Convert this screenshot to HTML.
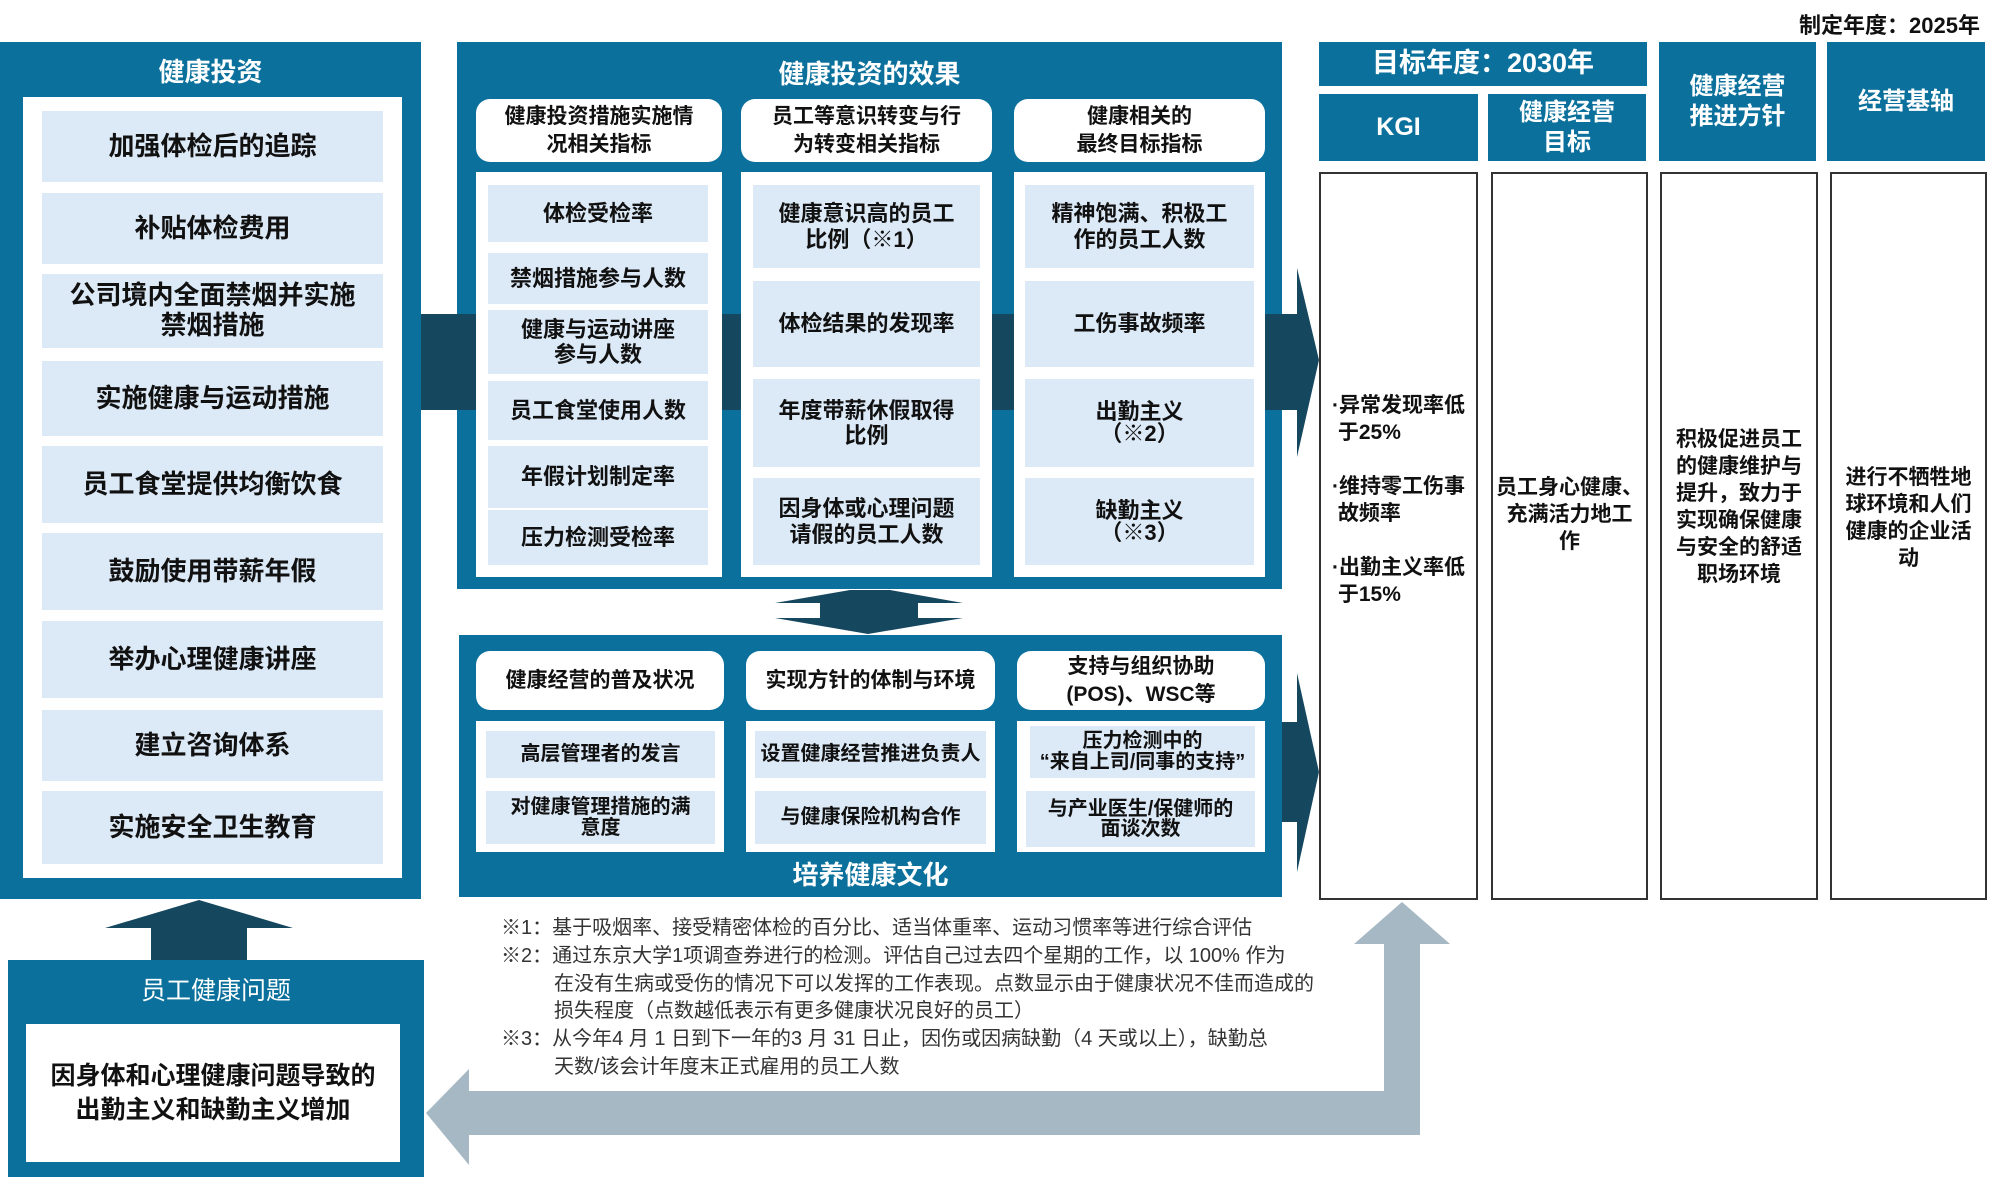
<!DOCTYPE html>
<html><head><meta charset="utf-8"><style>
*{margin:0;padding:0;box-sizing:border-box}
body{width:2000px;height:1177px;background:#fff;position:relative;overflow:hidden;font-family:"Liberation Sans","Noto Sans CJK SC",sans-serif;color:#111}
.a{position:absolute}
.blue{background:#0b719c}
.w{background:#fff}
.it{position:absolute;background:#dce9f6;display:flex;align-items:center;justify-content:center;text-align:center;font-weight:bold;line-height:1.15}
.hd{position:absolute;background:#fff;border-radius:14px;display:flex;align-items:center;justify-content:center;text-align:center;font-weight:bold;font-size:21px;line-height:1.3}
.t{position:absolute;color:#fff;font-weight:bold;text-align:center;display:flex;align-items:center;justify-content:center;line-height:1.25}
.col{position:absolute;background:#fff;border:2px solid #333}
.L .it{font-size:26px}
.M .it{font-size:22px}
.fn{position:absolute;left:501px;font-size:20px;color:#333;white-space:nowrap;line-height:28px}
</style></head><body>
<div class="a" style="right:20px;top:8px;font-size:22px;font-weight:bold">制定年度：2025年</div>

<svg class="a" style="left:0;top:0" width="2000" height="1177">
<rect x="421" y="314" width="876" height="96" fill="#15475f"/>
<polygon points="1297,268 1319,360 1297,457" fill="#15475f"/>
<rect x="1282" y="722" width="15" height="100" fill="#15475f"/>
<polygon points="1297,673 1319,772 1297,872" fill="#15475f"/>
<polygon points="199,900 293,928 247,928 247,960 151,960 151,928 105,928" fill="#15475f"/>
<polygon points="850,590 890,590 963,603 918,603 918,618 963,618 868,634 775,618 820,618 820,603 775,603" fill="#15475f"/>
<polygon points="1402,902 1450,944 1420,944 1420,1135 469,1135 469,1165 426,1113 469,1069 469,1091 1384,1091 1384,944 1354,944" fill="#a5b8c4"/>
</svg>

<!-- left panel -->
<div class="a blue L" style="left:0;top:42px;width:421px;height:857px">
 <div class="t" style="left:0;top:10px;width:421px;height:40px;font-size:26px">健康投资</div>
 <div class="a w" style="left:23px;top:55px;width:379px;height:781px"></div>
 <div class="it" style="left:42px;top:69px;width:341px;height:71px">加强体检后的追踪</div>
 <div class="it" style="left:42px;top:151px;width:341px;height:71px">补贴体检费用</div>
 <div class="it" style="left:42px;top:232px;width:341px;height:74px">公司境内全面禁烟并实施<br>禁烟措施</div>
 <div class="it" style="left:42px;top:319px;width:341px;height:75px">实施健康与运动措施</div>
 <div class="it" style="left:42px;top:404px;width:341px;height:77px">员工食堂提供均衡饮食</div>
 <div class="it" style="left:42px;top:491px;width:341px;height:77px">鼓励使用带薪年假</div>
 <div class="it" style="left:42px;top:579px;width:341px;height:77px">举办心理健康讲座</div>
 <div class="it" style="left:42px;top:668px;width:341px;height:71px">建立咨询体系</div>
 <div class="it" style="left:42px;top:749px;width:341px;height:73px">实施安全卫生教育</div>
</div>

<!-- middle top -->
<div class="a blue M" style="left:457px;top:42px;width:825px;height:547px">
 <div class="t" style="left:0;top:14px;width:825px;height:36px;font-size:26px">健康投资的效果</div>
 <div class="hd" style="left:19px;top:57px;width:246px;height:63px">健康投资措施实施情<br>况相关指标</div>
 <div class="hd" style="left:284px;top:57px;width:251px;height:63px">员工等意识转变与行<br>为转变相关指标</div>
 <div class="hd" style="left:557px;top:57px;width:251px;height:63px">健康相关的<br>最终目标指标</div>
 <div class="a" style="left:0;top:272px;width:825px;height:96px;background:#15475f"></div>
 <div class="a w" style="left:19px;top:130px;width:246px;height:405px"></div>
 <div class="a w" style="left:284px;top:130px;width:251px;height:405px"></div>
 <div class="a w" style="left:557px;top:130px;width:251px;height:405px"></div>
 <div class="it" style="left:31px;top:143px;width:220px;height:57px">体检受检率</div>
 <div class="it" style="left:31px;top:211px;width:220px;height:51px">禁烟措施参与人数</div>
 <div class="it" style="left:31px;top:268px;width:220px;height:64px">健康与运动讲座<br>参与人数</div>
 <div class="it" style="left:31px;top:339px;width:220px;height:59px">员工食堂使用人数</div>
 <div class="it" style="left:31px;top:404px;width:220px;height:62px">年假计划制定率</div>
 <div class="it" style="left:31px;top:468px;width:220px;height:55px">压力检测受检率</div>
 <div class="it" style="left:296px;top:143px;width:227px;height:83px">健康意识高的员工<br>比例（※1）</div>
 <div class="it" style="left:296px;top:239px;width:227px;height:86px">体检结果的发现率</div>
 <div class="it" style="left:296px;top:337px;width:227px;height:88px">年度带薪休假取得<br>比例</div>
 <div class="it" style="left:296px;top:436px;width:227px;height:87px">因身体或心理问题<br>请假的员工人数</div>
 <div class="it" style="left:568px;top:143px;width:229px;height:83px">精神饱满、积极工<br>作的员工人数</div>
 <div class="it" style="left:568px;top:239px;width:229px;height:86px">工伤事故频率</div>
 <div class="it" style="left:568px;top:337px;width:229px;height:88px;line-height:1">出勤主义<br>（※2）</div>
 <div class="it" style="left:568px;top:436px;width:229px;height:87px;line-height:1">缺勤主义<br>（※3）</div>
</div>

<!-- middle bottom -->
<div class="a blue M" style="left:459px;top:635px;width:823px;height:262px">
 <div class="hd" style="left:17px;top:16px;width:248px;height:59px">健康经营的普及状况</div>
 <div class="hd" style="left:287px;top:16px;width:249px;height:59px">实现方针的体制与环境</div>
 <div class="hd" style="left:558px;top:16px;width:248px;height:59px">支持与组织协助<br>(POS)、WSC等</div>
 <div class="a w" style="left:17px;top:86px;width:248px;height:131px"></div>
 <div class="a w" style="left:287px;top:86px;width:249px;height:131px"></div>
 <div class="a w" style="left:558px;top:86px;width:248px;height:131px"></div>
 <div class="it" style="left:27px;top:96px;width:229px;height:47px;font-size:20px">高层管理者的发言</div>
 <div class="it" style="left:27px;top:156px;width:229px;height:53px;font-size:20px;line-height:1.05">对健康管理措施的满<br>意度</div>
 <div class="it" style="left:296px;top:96px;width:231px;height:47px;font-size:20px">设置健康经营推进负责人</div>
 <div class="it" style="left:296px;top:156px;width:231px;height:53px;font-size:20px">与健康保险机构合作</div>
 <div class="it" style="left:571px;top:91px;width:225px;height:52px;font-size:20px;line-height:1.05">压力检测中的<br>“来自上司/同事的支持”</div>
 <div class="it" style="left:567px;top:156px;width:229px;height:56px;font-size:20px;line-height:1">与产业医生/保健师的<br>面谈次数</div>
 <div class="t" style="left:0;top:222px;width:823px;height:36px;font-size:26px">培养健康文化</div>
</div>

<!-- right -->
<div class="t blue" style="left:1319px;top:42px;width:328px;height:44px;font-size:27px">目标年度：2030年</div>
<div class="t blue" style="left:1319px;top:94px;width:159px;height:67px;font-size:25px">KGI</div>
<div class="t blue" style="left:1488px;top:94px;width:158px;height:67px;font-size:24px">健康经营<br>目标</div>
<div class="t blue" style="left:1659px;top:42px;width:157px;height:119px;font-size:24px">健康经营<br>推进方针</div>
<div class="t blue" style="left:1827px;top:42px;width:158px;height:119px;font-size:24px">经营基轴</div>
<div class="col" style="left:1319px;top:172px;width:159px;height:728px"></div>
<div class="col" style="left:1491px;top:172px;width:157px;height:728px"></div>
<div class="col" style="left:1660px;top:172px;width:158px;height:728px"></div>
<div class="col" style="left:1830px;top:172px;width:157px;height:728px"></div>
<div class="a" style="left:1332px;top:392px;width:144px;font-size:21px;font-weight:bold;line-height:27px">·异常发现率低<br>&nbsp;于25%<br><br>·维持零工伤事<br>&nbsp;故频率<br><br>·出勤主义率低<br>&nbsp;于15%</div>
<div class="a" style="left:1493px;top:474px;width:153px;font-size:21px;font-weight:bold;line-height:27px;text-align:center">员工身心健康、<br>充满活力地工<br>作</div>
<div class="a" style="left:1662px;top:426px;width:154px;font-size:21px;font-weight:bold;line-height:27px;text-align:center">积极促进员工<br>的健康维护与<br>提升，致力于<br>实现确保健康<br>与安全的舒适<br>职场环境</div>
<div class="a" style="left:1832px;top:464px;width:153px;font-size:21px;font-weight:bold;line-height:27px;text-align:center">进行不牺牲地<br>球环境和人们<br>健康的企业活<br>动</div>

<!-- bottom left -->
<div class="a blue" style="left:8px;top:960px;width:416px;height:217px">
 <div class="t" style="left:0;top:14px;width:416px;height:36px;font-size:25px;font-weight:normal">员工健康问题</div>
 <div class="a w" style="left:18px;top:64px;width:374px;height:138px;display:flex;align-items:center;justify-content:center;text-align:center;font-size:25px;font-weight:bold;line-height:34px">因身体和心理健康问题导致的<br>出勤主义和缺勤主义增加</div>
</div>

<div class="fn" style="top:914px">※1：基于吸烟率、接受精密体检的百分比、适当体重率、运动习惯率等进行综合评估</div>
<div class="fn" style="top:942px">※2：通过东京大学1项调查券进行的检测。评估自己过去四个星期的工作，以 100% 作为</div>
<div class="fn" style="top:970px;left:554px">在没有生病或受伤的情况下可以发挥的工作表现。点数显示由于健康状况不佳而造成的</div>
<div class="fn" style="top:997px;left:554px">损失程度（点数越低表示有更多健康状况良好的员工）</div>
<div class="fn" style="top:1025px">※3：从今年4 月 1 日到下一年的3 月 31 日止，因伤或因病缺勤（4 天或以上），缺勤总</div>
<div class="fn" style="top:1053px;left:554px">天数/该会计年度末正式雇用的员工人数</div>
</body></html>
